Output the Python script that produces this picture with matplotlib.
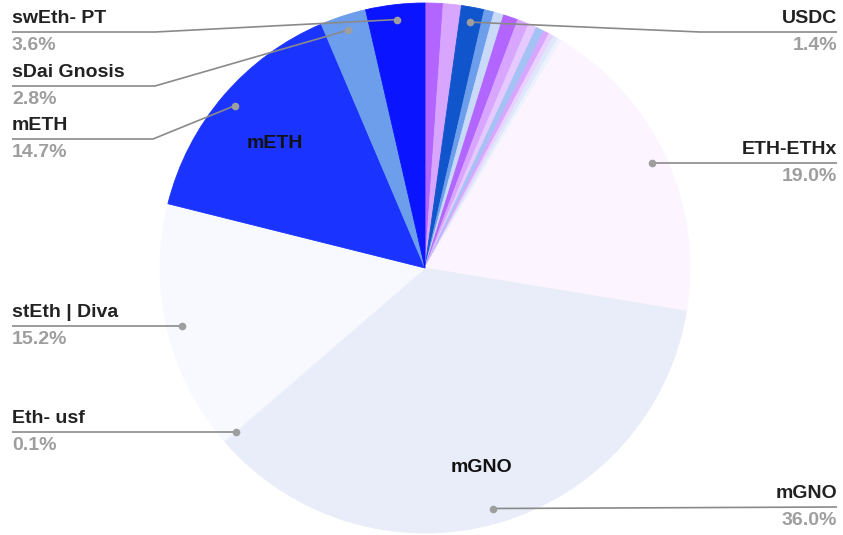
import matplotlib
matplotlib.use("Agg")
import matplotlib.pyplot as plt
import numpy as np

plt.rcParams['font.family'] = ['Liberation Sans', 'DejaVu Sans']

# Slices in clockwise order starting at 12 o'clock
names = ["s1", "s2", "USDC", "s4", "s5", "s6", "s7", "s8", "s9", "s10", "s11", "s12", "s13",
         "ETH-ETHx", "mGNO", "Eth- usf", "stEth | Diva", "mETH", "sDai Gnosis", "swEth- PT"]
values = [1.1, 1.1, 1.4, 0.6, 0.6, 0.9, 0.7, 0.5, 0.5, 0.35, 0.3, 0.3, 0.25,
          19.0, 36.0, 0.1, 15.2, 14.7, 2.8, 3.6]
colors = ["#b366ff", "#d9a6ff", "#1155cc", "#6d9eeb", "#c9daf8", "#b366ff", "#d9a6ff",
          "#e6c9ff", "#a4c2f4", "#d9a6ff", "#ead1ff", "#dfe8fb", "#eef2fc",
          "#fcf5ff", "#e8edf9", "#eef2fb", "#f8f9ff", "#1a33ff", "#6d9eeb", "#0a14ff"]

# Labelled slices
label_names = ["swEth- PT", "sDai Gnosis", "mETH", "stEth | Diva", "Eth- usf",
               "USDC", "ETH-ETHx", "mGNO"]
label_pcts = ["3.6%", "2.8%", "14.7%", "15.2%", "0.1%", "1.4%", "19.0%", "36.0%"]
inner_labels = ["mETH", "mGNO"]

W, H = 843, 535
fig = plt.figure(figsize=(W / 100, H / 100), dpi=100)
ax = fig.add_axes([0, 0, 1, 1])

cx, cy_pix, R = 425, 268, 265
cy = H - cy_pix

wedges, _ = ax.pie(values, colors=colors, startangle=90, counterclock=False,
                   center=(cx, cy), radius=R, frame=True,
                   wedgeprops=dict(linewidth=0.6))
for w in wedges:
    w.set_edgecolor(w.get_facecolor())
ax.set_xlim(0, W)
ax.set_ylim(0, H)
ax.set_aspect('equal')
ax.axis('off')

total = sum(values)
cum = np.cumsum([0] + values)
def mid_angle(name):
    i = names.index(name)
    return (cum[i] + values[i] / 2) / total * 2 * np.pi  # clockwise from top

def point(name, r):
    a = mid_angle(name)
    return cx + r * np.sin(a), cy + r * np.cos(a)

line_col = "#8a8a8a"
pct_col = "#9e9e9e"
fs = 14

# (side, line_y_pix or None for horizontal-to-dot, elbow_x)
layout = {
    "swEth- PT": ("L", 32, 155),
    "sDai Gnosis": ("L", 86, 155),
    "mETH": ("L", 139, 153),
    "stEth | Diva": ("L", None, None),
    "Eth- usf": ("L", None, None),
    "USDC": ("R", 32, 700),
    "ETH-ETHx": ("R", None, None),
    "mGNO": ("R", 507, None),
}

for nm, pct in zip(label_names, label_pcts):
    side, ly, ex = layout[nm]
    dx, dy = point(nm, 250)
    ly_d = dy if ly is None else H - ly
    x0 = 12 if side == "L" else 837
    ha = 'left' if side == "L" else 'right'
    xs = [x0] + ([ex] if ex else []) + [dx]
    ys = [ly_d] + ([ly_d] if ex else []) + [dy]
    ax.plot(xs, ys, color=line_col, lw=1.2, solid_capstyle='butt', zorder=3)
    ax.plot([dx], [dy], 'o', color="#9e9e9e", ms=5.5, mec='none', zorder=4)
    ax.text(x0, ly_d + 5, nm, ha=ha, va='bottom', fontsize=fs, fontweight='bold', color="#222222")
    ax.text(x0, ly_d - 5, pct, ha=ha, va='top', fontsize=fs, fontweight='bold', color=pct_col)

# Inner labels
inner_pos = {"mETH": (275, 143), "mGNO": (481, 468)}
for nm in inner_labels:
    x, y = inner_pos[nm]
    ax.text(x, H - y, nm, ha='center', va='center', fontsize=fs, fontweight='bold', color="#111111")

fig.savefig("out.png", dpi=100)
